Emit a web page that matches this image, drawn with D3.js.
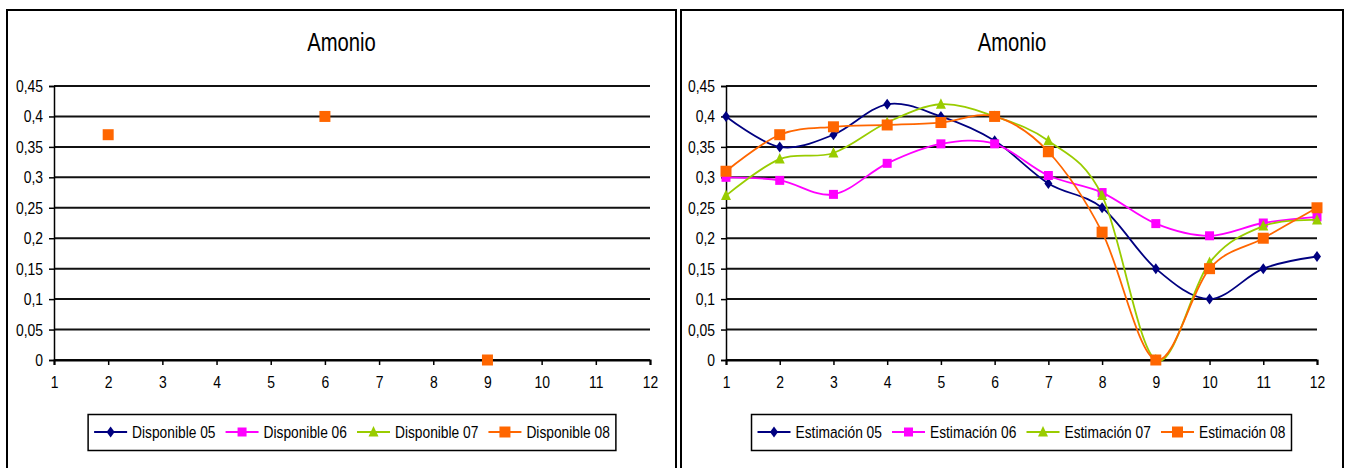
<!DOCTYPE html>
<html>
<head>
<meta charset="utf-8">
<script src="https://cdn.jsdelivr.net/npm/d3@7"></script>
<style>
  html, body { margin: 0; padding: 0; background: #fff; }
  svg { display: block; }
  text { font-family: "Liberation Sans", Arial, sans-serif; fill: #000; }
</style>
</head>
<body>
<svg id="chart" width="1349" height="468"></svg>
<script>
// Months on the horizontal axis
const months = [1, 2, 3, 4, 5, 6, 7, 8, 9, 10, 11, 12];
const yTicks = [0, 0.05, 0.1, 0.15, 0.2, 0.25, 0.3, 0.35, 0.4, 0.45];

// Measured ammonium (available samples only)
const disponible05 = [null, null, null, null, null, null, null, null, null, null, null, null];
const disponible06 = [null, null, null, null, null, null, null, null, null, null, null, null];
const disponible07 = [null, null, null, null, null, null, null, null, null, null, null, null];
const disponible08 = [null, 0.37, null, null, null, 0.40, null, null, 0, null, null, null];

// Estimated ammonium per month
const estimacion05 = [0.40, 0.35, 0.37, 0.42, 0.40, 0.36, 0.29, 0.25, 0.15, 0.10, 0.15, 0.17];
const estimacion06 = [0.30, 0.295, 0.272, 0.323, 0.355, 0.355, 0.303, 0.275, 0.224, 0.204, 0.225, 0.235];
const estimacion07 = [0.27, 0.33, 0.34, 0.39, 0.42, 0.40, 0.36, 0.27, 0, 0.16, 0.22, 0.23];
const estimacion08 = [0.31, 0.37, 0.383, 0.386, 0.39, 0.40, 0.342, 0.21, 0, 0.15, 0.20, 0.25];

const seriesStyle = [
  { color: "#000080", marker: "diamond" },
  { color: "#FF00FF", marker: "square-small" },
  { color: "#99CC00", marker: "triangle" },
  { color: "#FF6600", marker: "square" }
];

const NARROW = 0.81; // horizontal squeeze to get a narrow sans face
const svg = d3.select("#chart");
const fmt = v => String(v).replace(".", ",");

// Condense text horizontally while keeping its anchor point in place
function narrow(sel, sx) {
  sel.each(function () {
    const t = d3.select(this);
    const x = +t.attr("x") || 0;
    t.attr("x", x / sx).attr("transform", `scale(${sx},1)`);
  });
}

function markerPath(type) {
  switch (type) {
    case "diamond": return "M0,-5.5L4,0L0,5.5L-4,0Z";
    case "square-small": return "M-4.5,-4.5H4.5V4.5H-4.5Z";
    case "triangle": return "M0,-6L5,4.5H-5Z";
    default: return "M-5.5,-5.5H5.5V5.5H-5.5Z";
  }
}

function drawPanel(opt) {
  const g = svg.append("g");
  // chart area border
  g.append("rect")
    .attr("x", opt.left).attr("y", 10)
    .attr("width", opt.right - opt.left).attr("height", 480)
    .attr("fill", "#fff").attr("stroke", "#000").attr("stroke-width", 2);

  const title = g.append("text")
    .attr("x", (opt.left + opt.right) / 2).attr("y", 51)
    .attr("text-anchor", "middle")
    .style("font-size", "25px")
    .text("Amonio");
  narrow(title, NARROW);

  const x = d3.scaleLinear().domain([1, 12]).range([opt.plotL, opt.plotR]);
  const y = d3.scaleLinear().domain([0, 0.45]).range([360, 86]);

  // horizontal gridlines
  g.append("g").selectAll("line").data(yTicks).join("line")
    .attr("x1", opt.plotL).attr("x2", opt.plotR)
    .attr("y1", d => y(d)).attr("y2", d => y(d))
    .attr("stroke", "#111").attr("stroke-width", 2);

  // y axis
  const yAxis = d3.axisLeft(y).tickValues(yTicks).tickSize(5).tickPadding(6).tickFormat(fmt);
  const ya = g.append("g").attr("transform", `translate(${opt.plotL},0)`).call(yAxis);
  ya.select(".domain").attr("stroke", "#000").attr("stroke-width", 1.5);
  ya.selectAll(".tick line").attr("stroke", "#000").attr("stroke-width", 1.5);
  ya.selectAll(".tick text").style("font-size", "17px").style("font-family", null).attr("fill", "#000");
  narrow(ya.selectAll(".tick text"), 0.82);

  // x axis
  const xAxis = d3.axisBottom(x).tickValues(months).tickSize(5).tickPadding(11).tickFormat(d3.format("d"));
  const xa = g.append("g").attr("transform", `translate(0,${y(0)})`).call(xAxis);
  xa.select(".domain").attr("stroke", "#000").attr("stroke-width", 2);
  xa.selectAll(".tick line").attr("stroke", "#000").attr("stroke-width", 1.5);
  xa.selectAll(".tick text").style("font-size", "17px").style("font-family", null).attr("fill", "#000");
  narrow(xa.selectAll(".tick text"), 0.82);

  const line = d3.line()
    .defined(d => d.v !== null)
    .x(d => x(d.m)).y(d => y(d.v))
    .curve(d3.curveCatmullRom.alpha(0));

  opt.series.forEach((vals, i) => {
    const st = seriesStyle[i];
    const pts = months.map((m, j) => ({ m, v: vals[j] }));
    g.append("path").datum(pts)
      .attr("d", line)
      .attr("fill", "none").attr("stroke", st.color).attr("stroke-width", 1.8);
    g.append("g").selectAll("path").data(pts.filter(d => d.v !== null)).join("path")
      .attr("transform", d => `translate(${x(d.m)},${y(d.v)})`)
      .attr("d", markerPath(st.marker))
      .attr("fill", st.color);
  });

  // legend
  const lg = g.append("g");
  const items = lg.selectAll("g").data(opt.names).join("g");
  items.append("text").attr("y", 438).style("font-size", "17px").text(d => d);
  let cx = 0;
  const offsets = [];
  items.each(function () {
    const w = this.querySelector("text").getComputedTextLength() * NARROW;
    offsets.push(cx);
    cx += 38 + w + 10;
  });
  const totalW = cx - 10 + 12;
  const boxL = (opt.plotL + opt.plotR) / 2 - totalW / 2;
  lg.insert("rect", ":first-child")
    .attr("x", boxL).attr("y", 414.5)
    .attr("width", totalW).attr("height", 36)
    .attr("fill", "#fff").attr("stroke", "#000").attr("stroke-width", 1.5);
  items.each(function (d, i) {
    const gi = d3.select(this);
    const x0 = boxL + 6 + offsets[i];
    const st = seriesStyle[i];
    gi.select("text").attr("x", x0 + 38);
    narrow(gi.select("text"), NARROW);
    gi.insert("line", "text")
      .attr("x1", x0).attr("x2", x0 + 33).attr("y1", 432).attr("y2", 432)
      .attr("stroke", st.color).attr("stroke-width", 1.8);
    gi.insert("path", "text")
      .attr("transform", `translate(${x0 + 16.5},432)`)
      .attr("d", markerPath(st.marker))
      .attr("fill", st.color);
  });
}

drawPanel({
  left: 7, right: 676, plotL: 54, plotR: 650,
  series: [disponible05, disponible06, disponible07, disponible08],
  names: ["Disponible 05", "Disponible 06", "Disponible 07", "Disponible 08"]
});

drawPanel({
  left: 681, right: 1343, plotL: 726, plotR: 1317,
  series: [estimacion05, estimacion06, estimacion07, estimacion08],
  names: ["Estimación 05", "Estimación 06", "Estimación 07", "Estimación 08"]
});
</script>
</body>
</html>
